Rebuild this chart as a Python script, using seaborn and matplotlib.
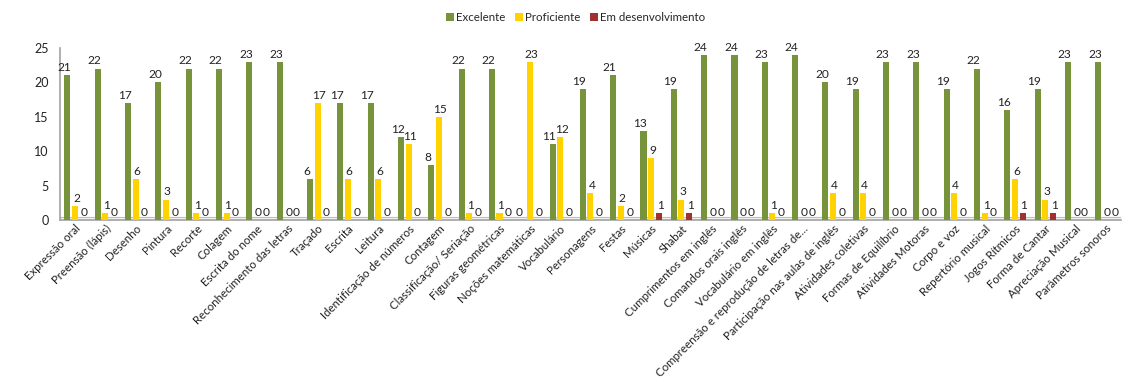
import matplotlib
matplotlib.use("Agg")
import matplotlib.pyplot as plt
import seaborn as sns
import pandas as pd

categories = [
    "Expressão oral", "Preensão (lápis)", "Desenho", "Pintura", "Recorte", "Colagem",
    "Escrita do nome", "Reconhecimento das letras", "Traçado", "Escrita", "Leitura",
    "Identificação de números", "Contagem", "Classificação/ Seriação", "Figuras geométricas",
    "Noções matemáticas", "Vocabulário", "Personagens", "Festas", "Músicas", "Shabat",
    "Cumprimentos em inglês", "Comandos orais inglês", "Vocabulário em inglês",
    "Compreensão e reprodução de letras de...", "Participação nas aulas de inglês",
    "Atividades coletivas", "Formas de Equilíbrio", "Atividades Motoras", "Corpo e voz",
    "Repertório musical", "Jogos Rítmicos", "Forma de Cantar", "Apreciação Musical",
    "Parâmetros sonoros",
]
excelente = [21, 22, 17, 20, 22, 22, 23, 23, 6, 17, 17, 12, 8, 22, 22, 0, 11, 19, 21, 13, 19,
             24, 24, 23, 24, 20, 19, 23, 23, 19, 22, 16, 19, 23, 23]
proficiente = [2, 1, 6, 3, 1, 1, 0, 0, 17, 6, 6, 11, 15, 1, 1, 23, 12, 4, 2, 9, 3,
               0, 0, 1, 0, 4, 4, 0, 0, 4, 1, 6, 3, 0, 0]
em_desenvolvimento = [0, 0, 0, 0, 0, 0, 0, 0, 0, 0, 0, 0, 0, 0, 0, 0, 0, 0, 0, 1, 1,
                      0, 0, 0, 0, 0, 0, 0, 0, 0, 0, 1, 1, 0, 0]
series_names = ["Excelente", "Proficiente", "Em desenvolvimento"]
colors = ["#77933C", "#FFD200", "#A0312E"]

df = pd.concat([
    pd.DataFrame({"cat": categories, "val": vals, "serie": name})
    for name, vals in zip(series_names, [excelente, proficiente, em_desenvolvimento])
])

sns.set_theme(style="white")
plt.rcParams["font.family"] = ["Lato", "DejaVu Sans"]

fig = plt.figure(figsize=(11.29, 3.83), dpi=100)
ax = fig.add_axes([0.053, 0.425, 0.940, 0.45])

sns.barplot(data=df, x="cat", y="val", hue="serie", palette=colors,
            width=0.75, gap=0.2, ax=ax, edgecolor="none", saturation=1, zorder=3)

offsets = [(-2.5, 1.5), (1.0, 1.5), (1.0, 1.5)]
for cont, off in zip(ax.containers, offsets):
    anns = ax.bar_label(cont, padding=1, fontsize=8.6, color="#222222")
    for a in anns:
        a.xyann = off

ax.set_ylim(0, 25)
ax.set_yticks([0, 5, 10, 15, 20, 25])
ax.set_xlim(-0.5, len(categories) - 0.5)
ax.set_xlabel("")
ax.set_ylabel("")
ax.tick_params(axis="y", labelsize=9, length=0, pad=8, colors="#222222")
ax.tick_params(axis="x", labelsize=8.3, length=0, pad=2, colors="#222222")
plt.setp(ax.get_xticklabels(), rotation=45, ha="right", rotation_mode="anchor")

for s in ["top", "right"]:
    ax.spines[s].set_visible(False)
ax.spines["left"].set_color("#A6A6A6")
ax.spines["bottom"].set_color("#A6A6A6")
ax.axhspan(0, 0.4, facecolor="#F2F2F2", edgecolor="#BFBFBF", lw=0.8, zorder=1)

h, l = ax.get_legend_handles_labels()
ax.legend_.remove()
fig.legend(h, l, loc="upper center", bbox_to_anchor=(0.51, 0.995), ncol=3,
           frameon=False, fontsize=8.3, handlelength=0.7, handleheight=0.7,
           columnspacing=0.8, handletextpad=0.2)

fig.savefig("out.png", dpi=100)
